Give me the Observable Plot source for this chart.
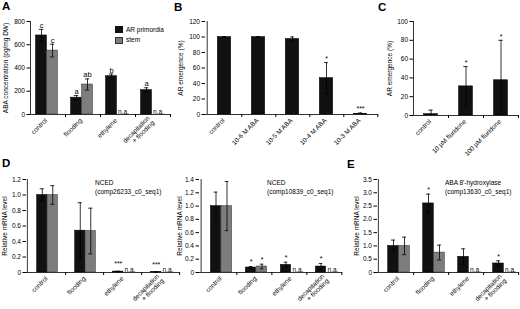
<!DOCTYPE html>
<html><head><meta charset="utf-8">
<script src="https://cdn.jsdelivr.net/npm/d3@7"></script>
<script src="https://cdn.jsdelivr.net/npm/@observablehq/plot@0.6"></script>
<style>
body{margin:0;background:#fff;}
#fig{position:relative;width:520px;height:309px;overflow:hidden;font-family:"Liberation Sans",Arial,sans-serif;color:#000;}
#fig svg{position:absolute;opacity:0.999;}
.lbl{position:absolute;font-weight:bold;font-size:11.5px;line-height:1;}
.note{position:absolute;font-size:6.5px;line-height:8.5px;white-space:nowrap;opacity:0.999;}
.sw{position:absolute;width:8px;height:7px;}
</style></head><body><div id="fig"></div>
<script>
// ---------- data ----------
const groupCats = ["control", "flooding", "ethylene", "decapitation\n+ flooding"];
const seriesNames = ["AR primordia", "stem"];

// A: ABA concentration
const abaAR = [680, 145, 330, 210];
const abaARerr = [52, 18, 18, 20];
const abaStem = [550, 258, null, null];
const abaStemErr = [55, 48, null, null];
const abaARmarks = ["c", "a", "b", "a"];
const abaStemMarks = ["c", "ab", "", ""];

// B: AR emergence with ABA
const catsB = ["control", "10-6 M ABA", "10-5 M ABA", "10-4 M ABA", "10-3 M ABA"];
const emB = [100, 100, 97.5, 47, 1];
const emBerr = [0.6, 0.5, 2.6, 20, 1];
const sigB = ["", "", "", "*", "***"];

// C: AR emergence with fluridone
const catsC = ["control", "10 µM fluridone", "100 µM fluridone"];
const emC = [1.5, 31, 37.5];
const emCerr = [4.2, 21, 42.5];
const sigC = ["", "*", "*"];

// D: NCED (comp26233_c0_seq1)
const nced1AR = [1.0, 0.54, 0.012, 0.006];
const nced1ARerr = [0.08, 0.36, 0.004, 0.003];
const nced1Stem = [1.0, 0.535, null, null];
const nced1StemErr = [0.12, 0.295, null, null];
const nced1ARsig = ["", "", "***", "***"];
const nced1StemSig = ["", "", "", ""];

// D (middle): NCED (comp10839_c0_seq1)
const nced2AR = [1.0, 0.075, 0.115, 0.09];
const nced2ARerr = [0.21, 0.015, 0.04, 0.045];
const nced2Stem = [1.0, 0.09, null, null];
const nced2StemErr = [0.37, 0.035, null, null];
const nced2ARsig = ["", "*", "*", "*"];
const nced2StemSig = ["", "*", "", ""];

// E: ABA 8'-hydroxylase (comp13630_c0_seq1)
const hydAR = [1.0, 2.6, 0.59, 0.34];
const hydARerr = [0.22, 0.35, 0.3, 0.1];
const hydStem = [1.0, 0.75, null, null];
const hydStemErr = [0.33, 0.28, null, null];
const hydARsig = ["", "*", "", "*"];
const hydStemSig = ["", "", "", ""];

const BLACK = "#111";
const GREY = "#7d7d7d";
const FONT = "'Liberation Sans', Arial, sans-serif";

// ---------- helpers ----------
function rowsOf(cats, vals, errs, sigs) {
  return cats.map((c, i) => ({cat: c, v: vals[i], e: errs[i], s: sigs ? sigs[i] : ""}));
}

function panel(o) {
  const bw = (o.width - o.ml - o.mr) / o.cats.length;
  const w = o.barW, sh = o.shift || 0;
  const marks = [];
  marks.push(Plot.ruleY([0], {stroke: "#000", strokeWidth: 0.8}));
  marks.push(Plot.ruleX([o.cats[0]], {y1: o.ydomain[0], y2: o.ydomain[1], dx: -bw / 2, stroke: "#000", strokeWidth: 0.8}));
  for (const s of o.series) {
    const c = bw / 2 + s.off * w + sh;
    const rows = s.rows.filter(d => d.v != null);
    const na = s.rows.filter(d => d.v == null);
    marks.push(Plot.barY(rows, {x: "cat", y: "v", fill: s.fill, stroke: s.stroke, strokeWidth: 0.5,
      insetLeft: c - w / 2, insetRight: bw - c - w / 2}));
    marks.push(Plot.ruleX(rows, {x: "cat", y1: d => Math.max(0, d.v - d.e), y2: d => d.v + d.e,
      dx: s.off * w + sh, stroke: "#000", strokeWidth: 0.8}));
    marks.push(Plot.tickY(rows, {x: "cat", y: d => d.v + d.e, insetLeft: c - 2.2, insetRight: bw - c - 2.2,
      stroke: "#000", strokeWidth: 0.8}));
    marks.push(Plot.tickY(rows.filter(d => d.v - d.e > 0), {x: "cat", y: d => d.v - d.e,
      insetLeft: c - 2.2, insetRight: bw - c - 2.2, stroke: "#000", strokeWidth: 0.8}));
    const sig = rows.filter(d => d.s);
    const single = sig.filter(d => d.s !== "***");
    const triple = sig.filter(d => d.s === "***");
    marks.push(Plot.text(single, {x: "cat", y: d => d.v + d.e, text: "s",
      dx: s.off * w + sh, dy: s.sigDy, lineAnchor: "bottom", fontSize: s.sigSize || 7, fill: "#000"}));
    marks.push(Plot.text(triple, {x: "cat", y: d => d.v + d.e, text: "s",
      dx: s.off * w + sh, dy: s.tripleDy == null ? s.sigDy : s.tripleDy, lineAnchor: "bottom", fontSize: 7, fill: "#000"}));
    if (na.length) marks.push(Plot.text(na, {x: "cat", y: 0, text: () => "n.a.",
      dx: s.off * w + sh - w / 2 + 1, dy: -0.5, textAnchor: "start", lineAnchor: "bottom", fontSize: 6.5, fill: "#000"}));
  }
  marks.push(Plot.axisY({ticks: o.yticks, tickFormat: o.yfmt, tickSize: 3.5, tickPadding: 2,
    label: o.ylabel, labelAnchor: "center", labelArrow: "none", labelOffset: o.labelOffset, fontSize: 6.5}));
  marks.push(Plot.axisX({tickSize: 3, tickFormat: () => "", dx: bw / 2, label: null}));
  marks.push(Plot.axisX({tickSize: 0, tickRotate: -45, tickPadding: 5, dx: sh - 1, label: null, fontSize: 6.5}));
  const svg = Plot.plot({
    width: o.width, height: o.height,
    marginLeft: o.ml, marginRight: o.mr, marginTop: o.mt, marginBottom: o.mb,
    style: {fontFamily: FONT, fontSize: "6.5px", background: "transparent", overflow: "visible"},
    x: {type: "band", domain: o.cats, padding: 0},
    y: {domain: o.ydomain},
    marks
  });
  svg.style.left = o.left + "px";
  svg.style.top = o.top + "px";
  return svg;
}

const fmt1 = d => d === 0 ? "0" : d.toFixed(1);
const fig = document.getElementById("fig");

// A
fig.appendChild(panel({
  cats: groupCats, left: 0, top: 0, width: 172, height: 150, ml: 30, mr: 2, mt: 21, mb: 36,
  ydomain: [0, 800], yticks: [0, 200, 400, 600, 800], yfmt: d => String(d),
  ylabel: "ABA concentration (pg/mg DW)", labelOffset: 27.5, barW: 11, shift: -1,
  series: [
    {rows: rowsOf(groupCats, abaAR, abaARerr, abaARmarks), fill: BLACK, stroke: "#000", off: -0.5, sigSize: 7.5, sigDy: -1.5},
    {rows: rowsOf(groupCats, abaStem, abaStemErr, abaStemMarks), fill: GREY, stroke: "#333", off: 0.5, sigSize: 7.5, sigDy: -1.5}
  ]
}));

// B
fig.appendChild(panel({
  cats: catsB, left: 173, top: 0, width: 207, height: 150, ml: 32, mr: 2, mt: 21, mb: 36,
  ydomain: [0, 120], yticks: [0, 20, 40, 60, 80, 100, 120], yfmt: d => String(d),
  ylabel: "AR emergence (%)", labelOffset: 27, barW: 14, shift: 0,
  series: [{rows: rowsOf(catsB, emB, emBerr, sigB), fill: BLACK, stroke: "#000", off: 0, sigDy: -1.5}]
}));

// C
fig.appendChild(panel({
  cats: catsC, left: 380, top: 0, width: 140, height: 155, ml: 33, mr: 2, mt: 21, mb: 40,
  ydomain: [0, 100], yticks: [0, 20, 40, 60, 80, 100], yfmt: d => String(d),
  ylabel: "AR emergence (%)", labelOffset: 26.5, barW: 14, shift: 0,
  series: [{rows: rowsOf(catsC, emC, emCerr, sigC), fill: BLACK, stroke: "#000", off: 0, sigDy: -1.5}]
}));

// D left
fig.appendChild(panel({
  cats: groupCats, left: 0, top: 150, width: 181, height: 159, ml: 26, mr: 2, mt: 29, mb: 37,
  ydomain: [0, 1.2], yticks: [0, 0.2, 0.4, 0.6, 0.8, 1.0, 1.2], yfmt: fmt1,
  ylabel: "Relative mRNA level", labelOffset: 24.5, barW: 10.5, shift: 1,
  series: [
    {rows: rowsOf(groupCats, nced1AR, nced1ARerr, nced1ARsig), fill: BLACK, stroke: "#000", off: -0.5, sigDy: -1.5, tripleDy: -5},
    {rows: rowsOf(groupCats, nced1Stem, nced1StemErr, nced1StemSig), fill: GREY, stroke: "#333", off: 0.5, sigDy: -1.5}
  ]
}));

// D middle
fig.appendChild(panel({
  cats: groupCats, left: 175, top: 150, width: 169, height: 159, ml: 24, mr: 2, mt: 29, mb: 37,
  ydomain: [0, 1.4], yticks: [0, 0.2, 0.4, 0.6, 0.8, 1.0, 1.2, 1.4], yfmt: fmt1,
  ylabel: "Relative mRNA level", labelOffset: 22.5, barW: 11, shift: 2.5,
  series: [
    {rows: rowsOf(groupCats, nced2AR, nced2ARerr, nced2ARsig), fill: BLACK, stroke: "#000", off: -0.5, sigDy: -2.5},
    {rows: rowsOf(groupCats, nced2Stem, nced2StemErr, nced2StemSig), fill: GREY, stroke: "#333", off: 0.5, sigDy: -2.5}
  ]
}));

// E
fig.appendChild(panel({
  cats: groupCats, left: 345, top: 150, width: 175, height: 159, ml: 32, mr: 2, mt: 29, mb: 37,
  ydomain: [0, 3.5], yticks: [0, 0.5, 1.0, 1.5, 2.0, 2.5, 3.0, 3.5], yfmt: fmt1,
  ylabel: "Relative mRNA level", labelOffset: 23.5, barW: 11, shift: 3,
  series: [
    {rows: rowsOf(groupCats, hydAR, hydARerr, hydARsig), fill: BLACK, stroke: "#000", off: -0.5, sigDy: -2},
    {rows: rowsOf(groupCats, hydStem, hydStemErr, hydStemSig), fill: GREY, stroke: "#333", off: 0.5, sigDy: -2}
  ]
}));

// panel letters, legend and gene notes
function addDiv(cls, text, left, top, extra) {
  const d = document.createElement("div");
  d.className = cls; d.textContent = text;
  d.style.left = left + "px"; d.style.top = top + "px";
  if (extra) Object.assign(d.style, extra);
  fig.appendChild(d);
  return d;
}
addDiv("lbl", "A", 2, 1);
addDiv("lbl", "B", 174, 1.5);
addDiv("lbl", "C", 378, 1.5);
addDiv("lbl", "D", 2, 158);
addDiv("lbl", "E", 347, 159);

addDiv("sw", "", 115, 26, {background: BLACK});
addDiv("sw", "", 115, 36.5, {background: GREY, border: "0.5px solid #333", boxSizing: "border-box"});
addDiv("note", seriesNames[0], 126, 25.5, {fontSize: "6.5px"});
addDiv("note", seriesNames[1], 126, 36, {fontSize: "6.5px"});

addDiv("note", "NCED\n(comp26233_c0_seq1)", 95, 179, {whiteSpace: "pre"});
addDiv("note", "NCED\n(comp10839_c0_seq1)", 267, 179, {whiteSpace: "pre"});
addDiv("note", "ABA 8'-hydroxylase\n(comp13630_c0_seq1)", 445, 179, {whiteSpace: "pre"});
</script></body></html>
